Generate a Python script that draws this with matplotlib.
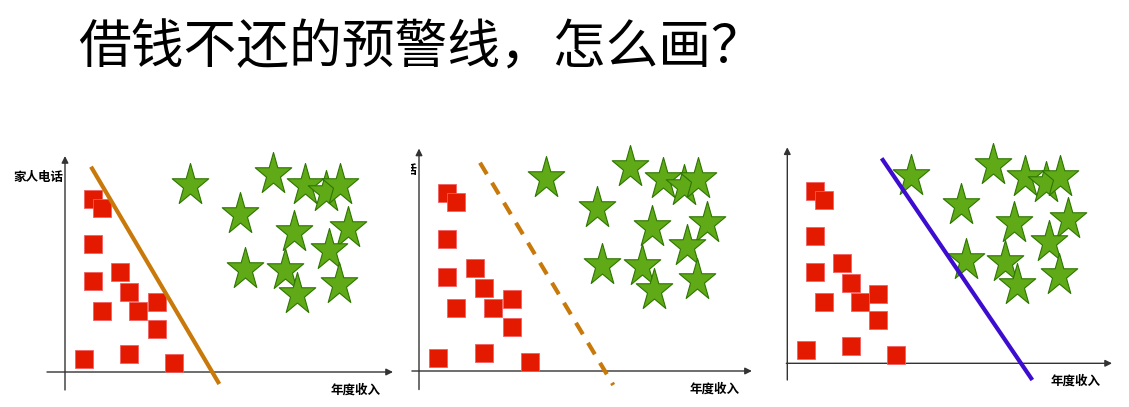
import matplotlib
matplotlib.use('Agg')
import matplotlib.pyplot as plt
import numpy as np
from matplotlib.path import Path
from matplotlib.transforms import Bbox

plt.rcParams['font.family'] = ['Noto Sans CJK SC', 'DejaVu Sans']

title = '借钱不还的预警线，怎么画？'
x_label = '年度收入'
y_label = '家人电话'

# red squares: (年度收入, 家人电话)
sq_x = [27.7, 36.7, 27.7, 27.7, 55.0, 64.3, 36.7, 73.3, 91.7, 91.7, 19.0, 64.3, 109.3]
sq_y = [172.7, 163.7, 127.7, 91.0, 100.3, 80.3, 61.0, 61.0, 69.7, 43.0, 13.0, 17.7, 8.7]

# green stars
star_x = [125, 207.7, 240, 261, 275, 175, 229.3, 283.3, 264, 180, 220, 231.7, 274.3]
star_y = [189, 200.3, 188.7, 182, 188.7, 160.3, 142, 146, 123.7, 105.3, 103.7, 80.3, 90.3]

# the three candidate lines (x pair, y pair)
line_x = [[26, 154.3], [60.1, 191.4], [95.3, 247.5]]
line_y = [[205.3, -12], [202.2, -13.6], [205, -16.7]]
line_color = ['#C8790A', '#C8790A', '#3C0CD0']
line_style = ['-', (0, (3.2, 2.4)), '-']

# panel origin in pixels and scale
panels = [(65, 372, 1.0, 1.0), (419, 371, 1.015, 1.03), (787.3, 363.3, 0.99, 1.0)]
xaxis_start = [-18, -7, -1]
yaxis_start = [-18, -18, -16.7]

W, H = 1129, 407
fig = plt.figure(figsize=(W / 100, H / 100), dpi=100)

# star marker, a bit taller than wide like the drawing
a_out = np.deg2rad(90 + 72 * np.arange(5))
a_in = a_out + np.deg2rad(36)
pts = []
for a, b in zip(a_out, a_in):
    pts.append((np.cos(a), np.sin(a)))
    pts.append((0.382 * np.cos(b), 0.382 * np.sin(b)))
pts = np.array(pts)
pts[:, 1] *= 1.15
pts[:, 1] -= (pts[:, 1].max() + pts[:, 1].min()) / 2
pts = np.vstack([pts, pts[:1]])
star = Path(pts, [Path.MOVETO] + [Path.LINETO] * 9 + [Path.CLOSEPOLY])

x0, x1, y0, y1 = -60, 335, -25, 230
for i, (ox, oy, sx, sy) in enumerate(panels):
    left = ox + x0 * sx
    bottom = H - (oy - y0 * sy)
    ax = fig.add_axes([left / W, bottom / H, (x1 - x0) * sx / W, (y1 - y0) * sy / H])
    ax.set_xlim(x0, x1)
    ax.set_ylim(y0, y1)
    ax.axis('off')
    ax.patch.set_alpha(0)

    # axes with arrow heads
    ax.annotate('', xy=(328, 0), xytext=(xaxis_start[i], 0),
                arrowprops=dict(arrowstyle='-|>', color='#333333', lw=1,
                                mutation_scale=10, shrinkA=0, shrinkB=0))
    ax.annotate('', xy=(0, 216), xytext=(0, yaxis_start[i]),
                arrowprops=dict(arrowstyle='-|>', color='#333333', lw=1,
                                mutation_scale=10, shrinkA=0, shrinkB=0))

    ax.plot(sq_x, sq_y, 's', ms=13, mfc='#E31A00', mec='#F06060', mew=0.6,
            clip_on=False, zorder=3)
    for xs, ys in zip(star_x, star_y):
        ax.plot(xs, ys, marker=star, ms=28.8, mfc='#60A917', mec='#2D7600',
                mew=0.8, ls='none', clip_on=False, zorder=3)

    ax.plot(line_x[i], line_y[i], color=line_color[i], lw=3, ls=line_style[i],
            solid_capstyle='butt', clip_on=False, zorder=4)

    ax.text(316, -18, x_label, ha='right', va='center', fontsize=9,
            fontweight='bold', clip_on=False)

    if i == 0:
        ax.text(-2, 195, y_label, ha='right', va='center', fontsize=9,
                fontweight='bold', clip_on=False)
    if i == 1:
        # only a sliver of this label shows in the original
        t = ax.text(-2, 195, y_label, ha='right', va='center', fontsize=9,
                    fontweight='bold')
        t.set_clip_box(Bbox.from_extents(411, 0, W, H))
        t.set_clip_on(True)

fig.text(78 / W, 1 - 48 / H, title, fontsize=38, ha='left', va='center',
         fontweight='light', color='black')

fig.savefig('out.png', dpi=100)
